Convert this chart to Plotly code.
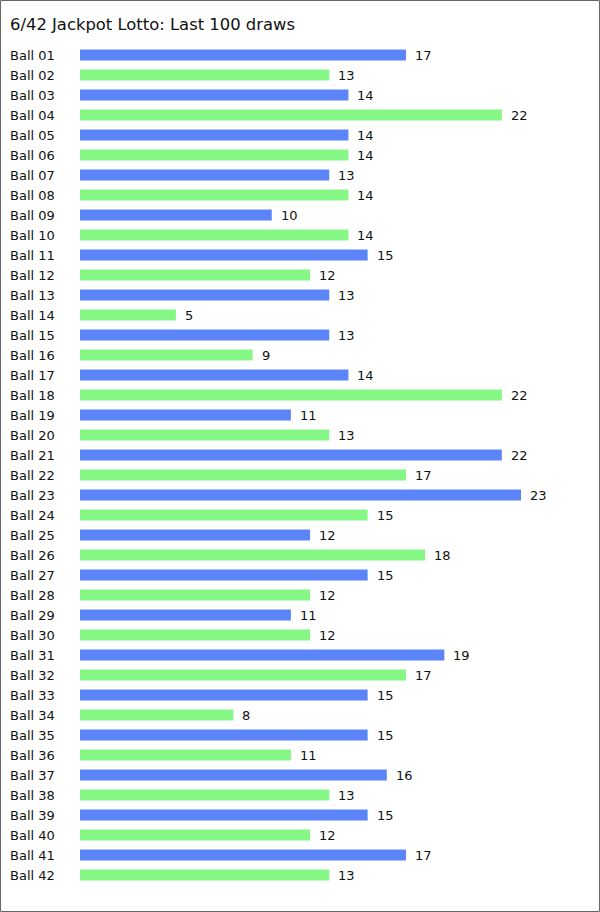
import plotly.graph_objects as go

balls = [f"Ball {i:02d}" for i in range(1, 43)]
counts = [17, 13, 14, 22, 14, 14, 13, 14, 10, 14,
          15, 12, 13, 5, 13, 9, 14, 22, 11, 13,
          22, 17, 23, 15, 12, 18, 15, 12, 11, 12,
          19, 17, 15, 8, 15, 11, 16, 13, 15, 12,
          17, 13]
title = "6/42 Jackpot Lotto: Last 100 draws"
blue = "#5b84f6"
green = "#84f784"
colors = [blue if i % 2 == 0 else green for i in range(len(balls))]

W, H = 600, 912
L, R, T, B = 80, 20, 45, 27
PW, PH = W - L - R, H - T - B
px_per_unit = 441 / 23.0
xmax = PW / px_per_unit

fig = go.Figure()
fig.add_trace(go.Bar(
    x=counts, y=balls, orientation="h",
    marker=dict(color=colors, line=dict(width=0)),
    width=0.55, hoverinfo="skip",
))

font = dict(family="DejaVu Sans, Verdana, sans-serif", size=13, color="#111")
ann = []
for b, c in zip(balls, counts):
    ann.append(dict(x=c, y=b, xref="x", yref="y", text=str(c), showarrow=False,
                    xanchor="left", yanchor="middle", xshift=7, font=font))
    ann.append(dict(x=(10 - L) / PW, y=b, xref="paper", yref="y", text=b, showarrow=False,
                    xanchor="left", yanchor="middle", xshift=-2, font=font))
ann.append(dict(x=(10 - L) / PW, y=(H - B - 24) / PH, xref="paper", yref="paper",
                text=title, showarrow=False, xanchor="left", yanchor="middle", xshift=-2,
                font=dict(family="DejaVu Sans, Verdana, sans-serif", size=16.4, color="#111")))

fig.update_layout(
    width=W, height=H,
    margin=dict(l=L, r=R, t=T, b=B, pad=0),
    paper_bgcolor="white", plot_bgcolor="white",
    showlegend=False,
    bargap=0.45,
    xaxis=dict(range=[0, xmax], visible=False, fixedrange=True),
    yaxis=dict(categoryorder="array", categoryarray=balls, autorange="reversed",
               showticklabels=False, showgrid=False, zeroline=False, showline=False,
               ticks="", fixedrange=True),
    annotations=ann,
    shapes=[dict(type="rect", xref="paper", yref="paper",
                 x0=(0.5 - L) / PW, x1=(599.5 - L) / PW,
                 y0=(H - B - 911.5) / PH, y1=(H - B - 0.5) / PH,
                 line=dict(color="#666666", width=1), fillcolor="rgba(0,0,0,0)")],
)

fig.write_html("out.html", config={"displayModeBar": False})
